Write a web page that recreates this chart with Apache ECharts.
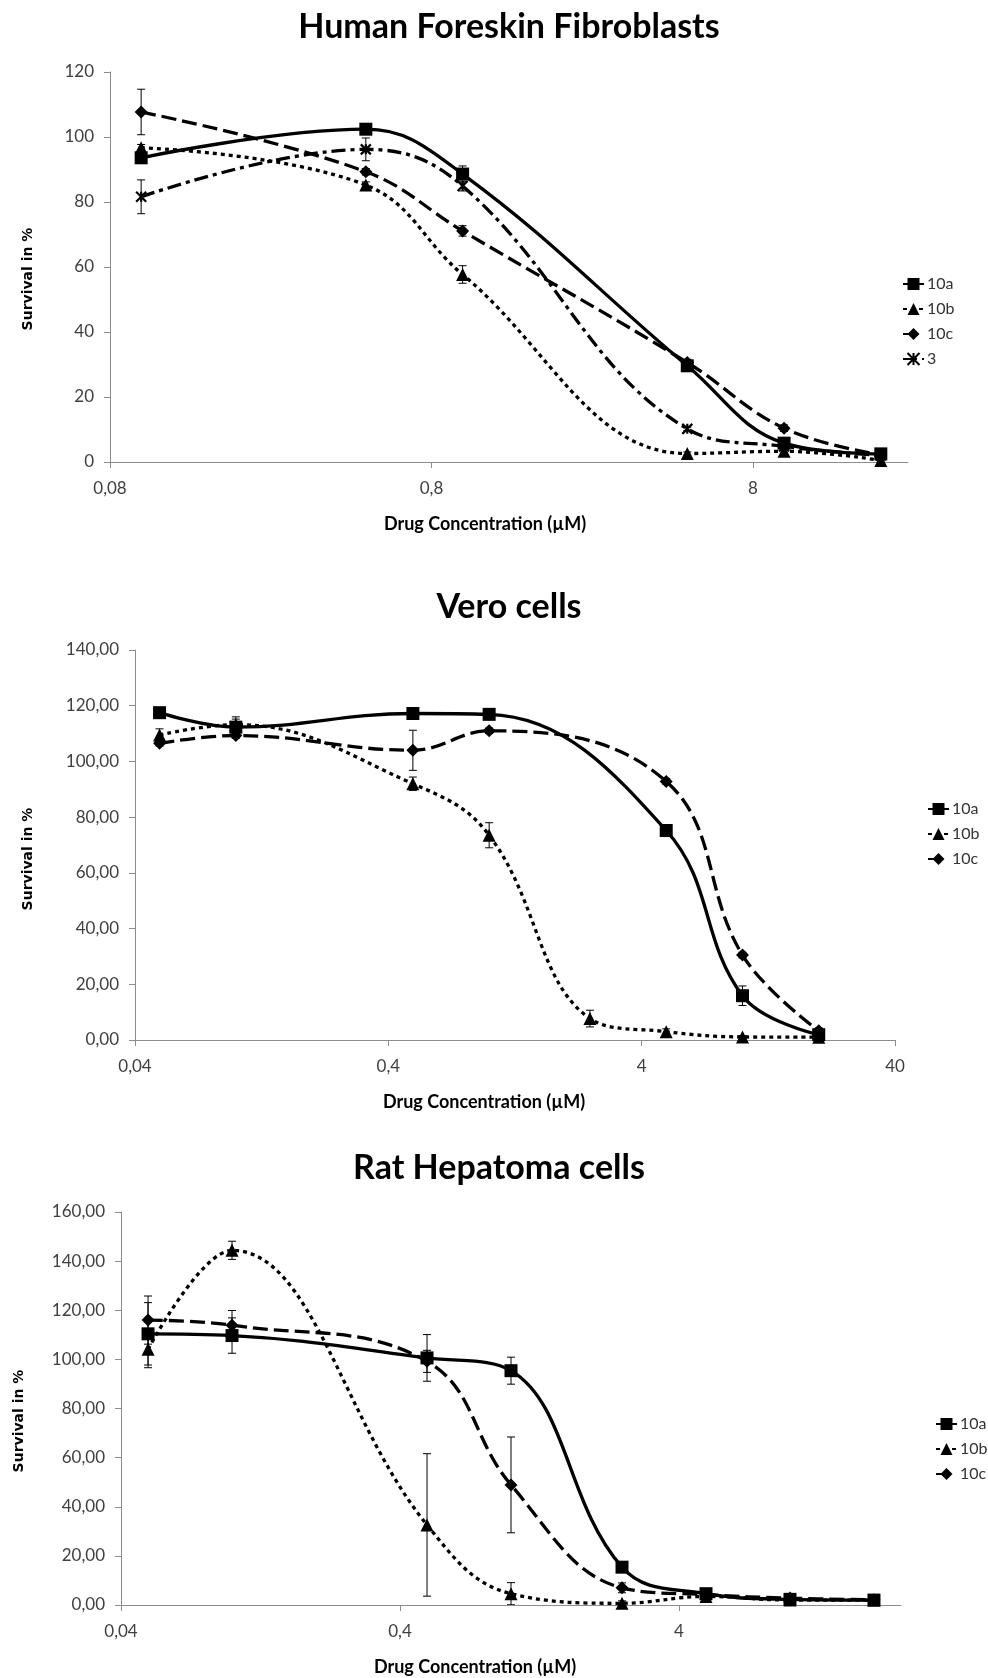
<!DOCTYPE html>
<html>
<head>
<meta charset="utf-8">
<script src="https://cdn.jsdelivr.net/npm/echarts@6/dist/echarts.min.js"></script>
<style>
  html, body { margin: 0; padding: 0; background: #fff; }
  #chart { width: 988px; height: 1678px; }
</style>
</head>
<body>
<div id="chart"></div>
<script>
// --- data ---

// Human Foreskin Fibroblasts
var hffX = [0.1, 0.5, 1, 5, 10, 20];
var hff10a = [93.6, 102.4, 88.6, 29.6, 5.8, 2.5];
var hff10aErr = [1.5, 1.0, 2.5, 1.0, 1.5, 1.0];
var hff10b = [96.7, 85.2, 57.7, 2.6, 3.3, 0.5];
var hff10bErr = [1.0, 1.0, 2.7, 0.5, 0.5, 0.5];
var hff10c = [107.7, 89.3, 71.1, 30.6, 10.4, 2.2];
var hff10cErr = [7.0, 1.0, 1.6, 1.0, 1.0, 0.5];
var hff3 = [81.6, 96.2, 84.9, 10.2, 4.8, 2.0];
var hff3Err = [5.2, 3.5, 1.5, 0.5, 0.5, 0.5];

// Vero cells
var veroX = [0.05, 0.1, 0.5, 1, 5, 10, 20];
var veroXb = [0.05, 0.1, 0.5, 1, 2.5, 5, 10, 20];
var vero10a = [117.5, 112.3, 117.2, 116.9, 75.2, 15.9, 1.9];
var vero10aErr = [1.0, 3.7, 1.0, 1.0, 1.0, 3.5, 1.0];
var vero10b = [109.5, 113.2, 92.0, 73.5, 7.7, 3.0, 1.1, 1.0];
var vero10bErr = [2.2, 2.0, 2.4, 4.5, 3.0, 1.0, 0.5, 0.5];
var vero10c = [106.5, 109.3, 104.0, 111.0, 92.8, 30.5, 3.3];
var vero10cErr = [1.0, 1.0, 7.2, 1.0, 1.0, 1.0, 1.0];

// Rat Hepatoma cells
var ratX = [0.05, 0.1, 0.5, 1, 2.5, 5, 10, 20];
var rat10a = [110.4, 109.7, 100.6, 95.4, 15.4, 4.6, 2.3, 2.0];
var rat10aErr = [12.7, 7.2, 9.5, 5.5, 1.0, 1.0, 1.0, 1.0];
var rat10b = [104.1, 144.4, 32.6, 4.6, 0.7, 3.5, 2.0, 2.0];
var rat10bErr = [7.5, 3.7, 29.0, 4.5, 1.0, 0.5, 0.5, 0.5];
var rat10c = [116.0, 113.9, 99.2, 48.9, 7.0, 4.2, 2.8, 2.1];
var rat10cErr = [9.8, 6.0, 4.5, 19.5, 2.0, 0.5, 0.5, 0.5];

var hffTicks = [0.08, 0.8, 8];
var veroTicks = [0.04, 0.4, 4, 40];
var ratTicks = [0.04, 0.4, 4];

// --- styles ---
var looks = {
  '10a': { symbol: 'rect', size: 13, dash: 'solid' },
  '10b': { symbol: 'triangle', size: 13, dash: [4, 4] },
  '10c': { symbol: 'diamond', size: 13, dash: [15, 6] },
  '3': { symbol: 'path://M0,0L10,10M10,0L0,10M5,0L5,10', size: 10, dash: [14, 5, 4, 5] }
};

function lineSeries(name, xs, ys, idx) {
  var lk = looks[name];
  var s = {
    type: 'line',
    name: name,
    xAxisIndex: idx,
    yAxisIndex: idx,
    data: xs.map(function (x, i) { return [x, ys[i]]; }),
    smooth: 0.4,
    symbol: lk.symbol,
    symbolSize: lk.size,
    showSymbol: true,
    lineStyle: { color: '#000', width: 3.3, type: lk.dash },
    itemStyle: { color: '#000' },
    z: 2
  };
  if (name === '3') {
    s.itemStyle = { color: '#000', borderColor: '#000', borderWidth: 2.2 };
  }
  return s;
}

function renderErr(params, api) {
  var x = api.value(0);
  var lo = api.coord([x, api.value(1)]);
  var hi = api.coord([x, api.value(2)]);
  var w = 4;
  var st = { stroke: '#000', lineWidth: 1 };
  return {
    type: 'group',
    children: [
      { type: 'line', shape: { x1: lo[0], y1: lo[1], x2: hi[0], y2: hi[1] }, style: st },
      { type: 'line', shape: { x1: lo[0] - w, y1: lo[1], x2: lo[0] + w, y2: lo[1] }, style: st },
      { type: 'line', shape: { x1: hi[0] - w, y1: hi[1], x2: hi[0] + w, y2: hi[1] }, style: st }
    ]
  };
}

function errSeries(xs, ys, es, idx) {
  return {
    type: 'custom',
    name: 'err',
    xAxisIndex: idx,
    yAxisIndex: idx,
    renderItem: renderErr,
    encode: { x: 0, y: [1, 2] },
    data: xs.map(function (x, i) { return [x, ys[i] - es[i], ys[i] + es[i]]; }),
    clip: true,
    silent: true,
    z: 3
  };
}

var gray = '#8c8c8c';
var labelColor = '#404040';

function xAxis(idx, min, max, ticks, namePad) {
  return {
    type: 'log',
    logBase: 10,
    gridIndex: idx,
    min: min,
    max: max,
    name: 'Drug Concentration (\u00b5M)',
    nameLocation: 'middle',
    nameGap: 53,
    nameMoveOverlap: false,
    nameTextStyle: { fontFamily: 'Lato', fontWeight: 'bold', fontSize: 18, color: '#000', padding: [0, namePad, 0, 0] },
    axisLine: { show: true, lineStyle: { color: gray, width: 1 } },
    axisTick: { show: true, length: 6, lineStyle: { color: gray }, customValues: ticks },
    axisLabel: {
      show: true, margin: 18, color: labelColor, fontFamily: 'Lato', fontSize: 17,
      customValues: ticks,
      formatter: function (v) { return String(v).replace('.', ','); }
    },
    splitLine: { show: false },
    minorTick: { show: false }
  };
}

function yAxis(idx, max, decimals, nameGap, namePad) {
  return {
    type: 'value',
    gridIndex: idx,
    min: 0,
    max: max,
    interval: 20,
    name: 'Survival in %',
    nameLocation: 'middle',
    nameRotate: 90,
    nameGap: nameGap,
    nameMoveOverlap: false,
    nameTextStyle: { fontFamily: 'DejaVu Sans', fontWeight: 'bold', fontSize: 14, color: '#000', padding: [0, namePad, 0, 0] },
    axisLine: { show: true, lineStyle: { color: gray, width: 1 } },
    axisTick: { show: true, length: 6, lineStyle: { color: gray } },
    axisLabel: {
      show: true, margin: 16, color: labelColor, fontFamily: 'Lato', fontSize: 17,
      formatter: function (v) { return decimals ? v.toFixed(2).replace('.', ',') : String(v); }
    },
    splitLine: { show: false }
  };
}

function legend(left, top, names) {
  return {
    orient: 'vertical',
    left: left,
    top: top,
    padding: 0,
    itemGap: 9,
    itemWidth: 21,
    itemHeight: 15,
    data: names,
    selectedMode: false,
    textStyle: { fontFamily: 'Lato', fontSize: 16, color: '#333', padding: [0, 0, 0, -2] }
  };
}

function title(text, cx, top) {
  return {
    text: text,
    left: cx,
    top: top,
    textAlign: 'center',
    padding: 0,
    textStyle: { fontFamily: 'Lato', fontWeight: 'bold', fontSize: 34, color: '#000' }
  };
}

var chart = echarts.init(document.getElementById('chart'), null, { renderer: 'canvas' });

var option = {
  animation: false,
  backgroundColor: '#fff',
  title: [
    title('Human Foreskin Fibroblasts', 509, 10),
    title('Vero cells', 509, 590),
    title('Rat Hepatoma cells', 499, 1151)
  ],
  legend: [
    legend(902, 276, ['10a', '10b', '10c', '3']),
    legend(927, 801, ['10a', '10b', '10c']),
    legend(935, 1416, ['10a', '10b', '10c'])
  ],
  grid: [
    { left: 110, top: 72, width: 798, height: 390, containLabel: false, outerBoundsMode: 'none' },
    { left: 135, top: 650, width: 760, height: 390, containLabel: false, outerBoundsMode: 'none' },
    { left: 121, top: 1212, width: 780, height: 393, containLabel: false, outerBoundsMode: 'none' }
  ],
  xAxis: [
    xAxis(0, 0.08, 24.3, hffTicks, 48),
    xAxis(1, 0.04, 40, veroTicks, 62),
    xAxis(2, 0.04, 25, ratTicks, 72)
  ],
  yAxis: [
    yAxis(0, 120, false, 75, 24),
    yAxis(1, 140, true, 100, 28),
    yAxis(2, 160, true, 95, 25)
  ],
  series: [
    lineSeries('10a', hffX, hff10a, 0),
    lineSeries('10b', hffX, hff10b, 0),
    lineSeries('10c', hffX, hff10c, 0),
    lineSeries('3', hffX, hff3, 0),
    errSeries(hffX, hff10a, hff10aErr, 0),
    errSeries(hffX, hff10b, hff10bErr, 0),
    errSeries(hffX, hff10c, hff10cErr, 0),
    errSeries(hffX, hff3, hff3Err, 0),

    lineSeries('10a', veroX, vero10a, 1),
    lineSeries('10b', veroXb, vero10b, 1),
    lineSeries('10c', veroX, vero10c, 1),
    errSeries(veroX, vero10a, vero10aErr, 1),
    errSeries(veroXb, vero10b, vero10bErr, 1),
    errSeries(veroX, vero10c, vero10cErr, 1),

    lineSeries('10a', ratX, rat10a, 2),
    lineSeries('10b', ratX, rat10b, 2),
    lineSeries('10c', ratX, rat10c, 2),
    errSeries(ratX, rat10a, rat10aErr, 2),
    errSeries(ratX, rat10b, rat10bErr, 2),
    errSeries(ratX, rat10c, rat10cErr, 2)
  ]
};

chart.setOption(option);
</script>
</body>
</html>
